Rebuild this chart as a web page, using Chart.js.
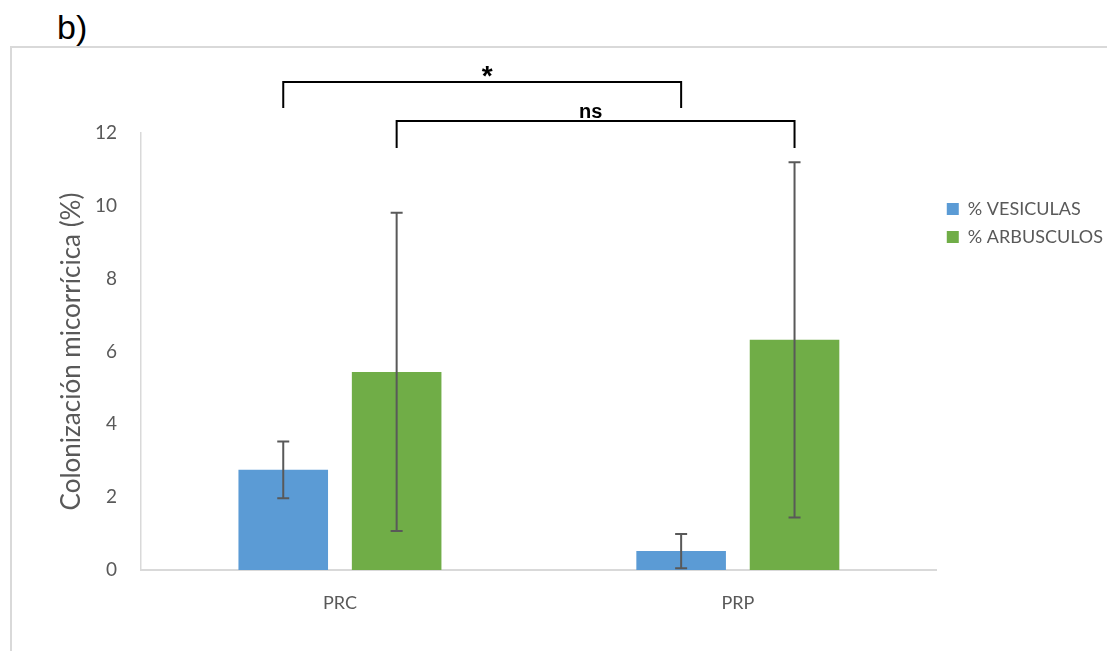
<!DOCTYPE html>
<html>
<head>
<meta charset="utf-8">
<script src="https://cdn.jsdelivr.net/npm/chart.js@4/dist/chart.umd.min.js"></script>
<style>
  html, body { margin: 0; padding: 0; background: #fff; }
  #wrap { position: relative; width: 1107px; height: 651px; overflow: hidden; }
  #frame { position: absolute; left: 10px; top: 46px; width: 1200px; height: 700px;
           border-top: 2px solid #d9d9d9; border-left: 2px solid #d9d9d9; }
  #tag { position: absolute; left: 57px; top: 8px; font: 34px "Liberation Sans", Arial, sans-serif; color: #000; }
  canvas { position: absolute; left: 0; top: 0; }
</style>
</head>
<body>
<div id="wrap">
  <div id="frame"></div>
  <div id="tag">b)</div>
  <canvas id="chart" width="1107" height="651"></canvas>
</div>
<script>
// datos
const categories = ["PRC", "PRP"];
const vesiculas = [2.75, 0.52];
const vesiculasErr = [0.78, 0.47];
const arbusculos = [5.44, 6.32];
const arbusculosErr = [4.37, 4.88];
const seriesNames = ["% VESICULAS", "% ARBUSCULOS"];
const sigLabels = ["*", "ns"];
const yTicks = { min: 0, max: 12, step: 2 };

const grey = "#595959";
const axisGrey = "#d9d9d9";

// barras de error (media ± error)
const errorBars = {
  id: "errorBars",
  afterDatasetsDraw(chart) {
    const ctx = chart.ctx;
    const y = chart.scales.y;
    ctx.save();
    ctx.strokeStyle = grey;
    ctx.lineWidth = 2;
    chart.data.datasets.forEach((ds, i) => {
      chart.getDatasetMeta(i).data.forEach((bar, j) => {
        const top = y.getPixelForValue(ds.data[j] + ds.errors[j]);
        const bot = y.getPixelForValue(ds.data[j] - ds.errors[j]);
        ctx.beginPath();
        ctx.moveTo(bar.x, top); ctx.lineTo(bar.x, bot);
        ctx.moveTo(bar.x - 6, top); ctx.lineTo(bar.x + 6, top);
        ctx.moveTo(bar.x - 6, bot); ctx.lineTo(bar.x + 6, bot);
        ctx.stroke();
      });
    });
    ctx.restore();
  }
};

// corchetes de significancia
const brackets = {
  id: "brackets",
  afterDraw(chart) {
    const ctx = chart.ctx;
    const t = chart.chartArea.top;
    const levels = [
      { top: t - 51, leg: t - 25, dx: 5, textY: t - 48, font: "bold 28px 'Liberation Sans', Arial" },
      { top: t - 12, leg: t + 15, dx: -5, textY: t - 15, font: "bold 20px 'Liberation Sans', Arial" }
    ];
    ctx.save();
    ctx.strokeStyle = "#000";
    ctx.fillStyle = "#000";
    ctx.lineWidth = 2;
    sigLabels.forEach((label, i) => {
      const bars = chart.getDatasetMeta(i).data;
      const x1 = bars[0].x, x2 = bars[1].x;
      const lv = levels[i];
      ctx.beginPath();
      ctx.moveTo(x1, lv.leg); ctx.lineTo(x1, lv.top);
      ctx.lineTo(x2, lv.top); ctx.lineTo(x2, lv.leg);
      ctx.stroke();
      ctx.font = lv.font;
      ctx.textAlign = "center";
      ctx.textBaseline = "alphabetic";
      ctx.fillText(label, (x1 + x2) / 2 + lv.dx, lv.textY);
    });
    ctx.restore();
  }
};

new Chart(document.getElementById("chart"), {
  type: "bar",
  data: {
    labels: categories,
    datasets: [
      { label: seriesNames[0], data: vesiculas, errors: vesiculasErr, backgroundColor: "#5B9BD5", borderWidth: 0 },
      { label: seriesNames[1], data: arbusculos, errors: arbusculosErr, backgroundColor: "#70AD47", borderWidth: 0 }
    ]
  },
  options: {
    responsive: false,
    animation: false,
    devicePixelRatio: 1,
    categoryPercentage: 0.57,
    barPercentage: 0.79,
    layout: { padding: { left: 56, top: 133, right: -6, bottom: 31 } },
    scales: {
      x: {
        grid: { display: false, drawTicks: false },
        border: { color: axisGrey, width: 2 },
        ticks: { color: grey, font: { family: "Lato", size: 18 }, padding: 22 },
        afterFit(scale) { scale.height = 50; }
      },
      y: {
        min: yTicks.min,
        max: yTicks.max,
        grid: { display: false, drawTicks: false },
        border: { color: axisGrey, width: 1.5 },
        ticks: { stepSize: yTicks.step, color: grey, font: { family: "Lato", size: 19 }, padding: 24 },
        title: {
          display: true,
          text: "Colonización micorrícica (%)",
          color: grey,
          font: { family: "Lato", size: 26 },
          padding: { top: 0, bottom: 0 }
        },
        afterFit(scale) { scale.width = 85; }
      }
    },
    plugins: {
      tooltip: { enabled: false },
      legend: {
        position: "right",
        align: "start",
        title: { display: true, text: "", font: { size: 10 }, padding: { top: 45, bottom: 0 } },
        labels: {
          color: grey,
          font: { family: "Lato", size: 18 },
          boxWidth: 12,
          boxHeight: 12,
          padding: 10
        }
      }
    }
  },
  plugins: [errorBars, brackets]
});
</script>
</body>
</html>
